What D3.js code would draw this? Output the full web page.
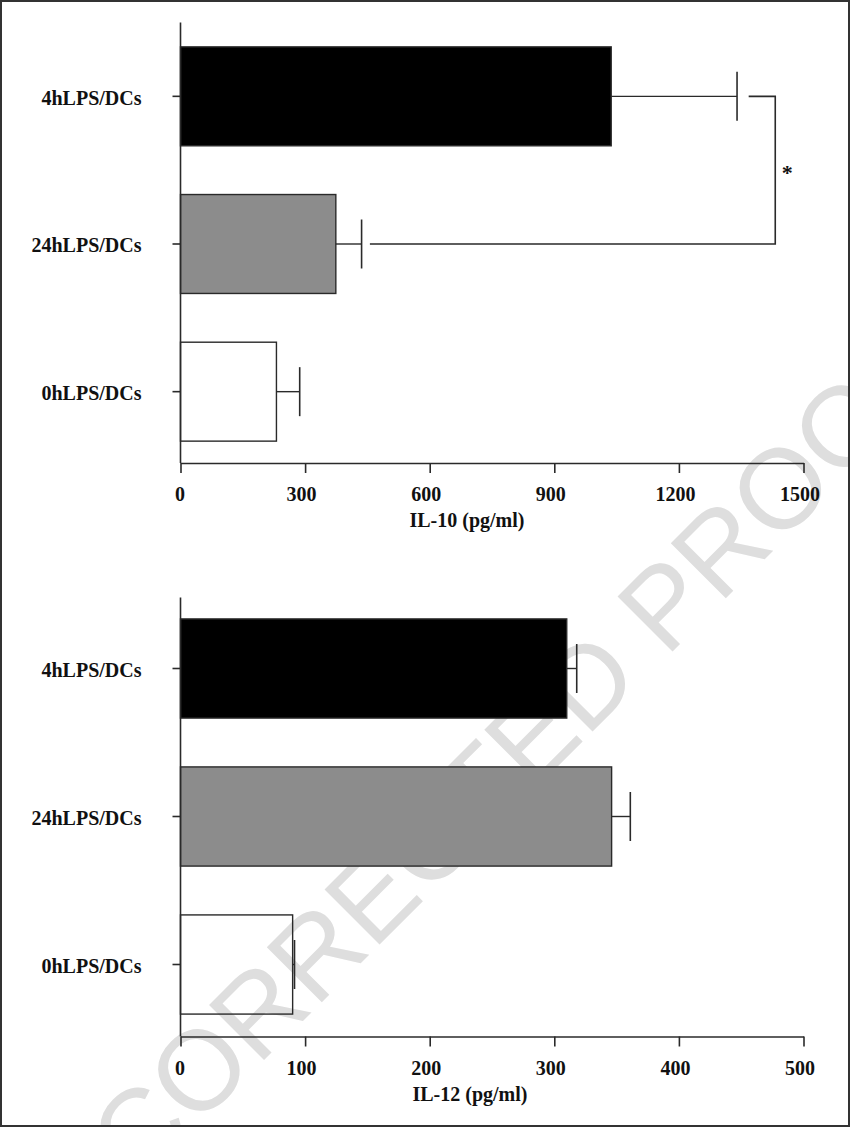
<!DOCTYPE html>
<html>
<head>
<meta charset="utf-8">
<script src="https://cdn.jsdelivr.net/npm/d3@7"></script>
<style>
  html, body { margin: 0; padding: 0; background: #fff; }
  svg { display: block; }
  .lbl { font-family: "Liberation Serif", "Times New Roman", serif; font-weight: bold; font-size: 20px; fill: #111; }
</style>
</head>
<body>
<svg id="chart" width="850" height="1127"></svg>
<script>
// ---------- data ----------
const categories = ["4hLPS/DCs", "24hLPS/DCs", "0hLPS/DCs"];
const il10Values = [1037, 374, 231];
const il10Errors = [303, 62, 56];
const il12Values = [310, 346, 90];
const il12Errors = [8, 15, 1.5];
const il10Ticks = [0, 300, 600, 900, 1200, 1500];
const il12Ticks = [0, 100, 200, 300, 400, 500];
const il10Title = "IL-10 (pg/ml)";
const il12Title = "IL-12 (pg/ml)";
// significance bracket (IL-10): between 4h and 24h groups
const sigPair = ["4hLPS/DCs", "24hLPS/DCs"];
const sigStarts = [1368, 456];   // where each arm begins (data units)
const sigX = 1432;               // vertical bar position (data units)
const sigLabel = "*";
const watermarkText = "UNCORRECTED PROOF";

// ---------- styles ----------
const fills = ["#000000", "#8c8c8c", "none"];
const ink = "#2a2a2a";

const svg = d3.select("#chart");

// watermark (behind the chart)
{
  const wm = svg.append("text")
    .attr("x", 0).attr("y", 0)
    .style("font-family", "'Liberation Sans', Arial, sans-serif")
    .style("font-size", "113px")
    .attr("fill", "#dedede")
    .text(watermarkText);
  const pIndex = watermarkText.indexOf("P");
  const px = wm.node().getStartPositionOfChar(pIndex).x;
  wm.attr("x", -px).attr("transform", "translate(666,658) rotate(-45)");
}

// frame
svg.append("rect")
  .attr("x", 1).attr("y", 1).attr("width", 848).attr("height", 1125)
  .attr("fill", "none").attr("stroke", "#333").attr("stroke-width", 2);

const left = 180.5, right = 803.5;

function panel(cfg) {
  const g = svg.append("g");
  const x = d3.scaleLinear().domain([cfg.ticks[0], cfg.ticks[cfg.ticks.length - 1]]).range([left, right]);
  const y = d3.scaleBand().domain(categories).range(cfg.band).paddingInner(0.33).paddingOuter(0.165);
  const data = categories.map((c, i) => ({ c, v: cfg.values[i], e: cfg.errors[i], fill: fills[i] }));

  // bars
  g.selectAll("rect.bar").data(data).join("rect")
    .attr("class", "bar")
    .attr("x", x(0))
    .attr("y", d => y(d.c))
    .attr("width", d => x(d.v) - x(0))
    .attr("height", y.bandwidth())
    .attr("fill", d => d.fill)
    .attr("stroke", ink)
    .attr("stroke-width", 1.4);

  // error bars
  const capHalf = 24.5;
  g.selectAll("line.err").data(data).join("line")
    .attr("class", "err")
    .attr("x1", d => x(d.v)).attr("x2", d => x(d.v + d.e))
    .attr("y1", d => y(d.c) + y.bandwidth() / 2).attr("y2", d => y(d.c) + y.bandwidth() / 2)
    .attr("stroke", ink).attr("stroke-width", 1.4);
  g.selectAll("line.cap").data(data).join("line")
    .attr("class", "cap")
    .attr("x1", d => x(d.v + d.e)).attr("x2", d => x(d.v + d.e))
    .attr("y1", d => y(d.c) + y.bandwidth() / 2 - capHalf).attr("y2", d => y(d.c) + y.bandwidth() / 2 + capHalf)
    .attr("stroke", ink).attr("stroke-width", 1.6);

  // x axis
  const xa = g.append("g")
    .attr("transform", `translate(0,${cfg.axisY})`)
    .call(d3.axisBottom(x).tickValues(cfg.ticks).tickFormat(d3.format("d")).tickSize(10).tickSizeOuter(0).tickPadding(14));
  xa.select(".domain").attr("stroke", ink).attr("stroke-width", 1.6);
  xa.selectAll(".tick line").attr("stroke", ink).attr("stroke-width", 1.6);
  xa.selectAll(".tick text").attr("class", "lbl").attr("fill", "#111")
    .attr("dx", d => d === 0 ? -1 : -4);

  // y axis
  const ya = g.append("g")
    .attr("transform", `translate(${left},0)`)
    .call(d3.axisLeft(y).tickSize(8).tickSizeOuter(0).tickPadding(31));
  ya.select(".domain").remove();
  ya.selectAll(".tick line").attr("stroke", ink).attr("stroke-width", 1.6);
  ya.selectAll(".tick text").attr("class", "lbl").attr("fill", "#111").attr("dy", "0.42em");
  g.append("line")
    .attr("x1", left).attr("x2", left)
    .attr("y1", cfg.axisTop).attr("y2", cfg.axisY)
    .attr("stroke", ink).attr("stroke-width", 1.6);

  // title
  g.append("text").attr("class", "lbl")
    .attr("x", cfg.titleX).attr("y", cfg.titleY)
    .attr("text-anchor", "middle")
    .text(cfg.title);

  return { g, x, y };
}

const panelTop = panel({
  values: il10Values, errors: il10Errors, ticks: il10Ticks, title: il10Title,
  band: [22.5, 465.5], axisTop: 22.5, axisY: 463, titleX: 467, titleY: 527
});
panel({
  values: il12Values, errors: il12Errors, ticks: il12Ticks, title: il12Title,
  band: [594.5, 1038.5], axisTop: 597.5, axisY: 1036.5, titleX: 470, titleY: 1100.5
});

// significance bracket
{
  const { g, x, y } = panelTop;
  const yA = y(sigPair[0]) + y.bandwidth() / 2;
  const yB = y(sigPair[1]) + y.bandwidth() / 2;
  const path = d3.path();
  path.moveTo(x(sigStarts[0]), yA);
  path.lineTo(x(sigX), yA);
  path.lineTo(x(sigX), yB);
  path.lineTo(x(sigStarts[1]), yB);
  g.append("path").attr("d", path.toString())
    .attr("fill", "none").attr("stroke", ink).attr("stroke-width", 1.6);
  g.append("text").attr("class", "lbl")
    .attr("x", x(sigX) + 12).attr("y", (yA + yB) / 2 + 10)
    .attr("text-anchor", "middle")
    .style("font-size", "22px")
    .text(sigLabel);
}
</script>
</body>
</html>
